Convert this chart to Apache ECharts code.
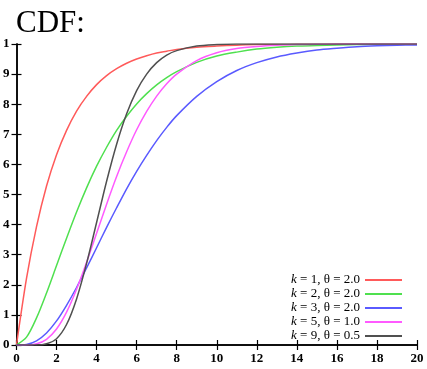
<!DOCTYPE html>
<html>
<head>
<meta charset="utf-8">
<script src="https://cdn.jsdelivr.net/npm/echarts@6/dist/echarts.min.js"></script>
<style>
  html, body { margin: 0; padding: 0; background: #fff; }
  #main { width: 427px; height: 369px; }
</style>
</head>
<body>
<div id="main"></div>
<script>
// x positions of the read points
const xs = [0, 0.5, 1, 1.5, 2, 2.5, 3, 3.5, 4, 4.5, 5, 5.5, 6, 6.5, 7, 7.5, 8,
  9, 10, 11, 12, 13, 14, 15, 16, 17, 18, 19, 20];

// CDF values, one per x above
const cdf_k1 = [0, 0.221, 0.393, 0.528, 0.632, 0.713, 0.777, 0.826, 0.865, 0.895, 0.918, 0.936, 0.950, 0.961, 0.970, 0.976, 0.982,
  0.989, 0.993, 0.996, 0.998, 0.998, 0.999, 0.999, 1, 1, 1, 1, 1];
const cdf_k2 = [0, 0.026, 0.090, 0.173, 0.264, 0.355, 0.442, 0.522, 0.594, 0.657, 0.713, 0.760, 0.801, 0.835, 0.864, 0.888, 0.908,
  0.939, 0.960, 0.973, 0.983, 0.989, 0.993, 0.995, 0.997, 0.998, 0.999, 0.999, 1];
const cdf_k3 = [0, 0.002, 0.014, 0.040, 0.080, 0.132, 0.191, 0.256, 0.323, 0.391, 0.456, 0.519, 0.577, 0.630, 0.679, 0.723, 0.762,
  0.826, 0.875, 0.912, 0.938, 0.957, 0.970, 0.980, 0.986, 0.991, 0.994, 0.996, 0.997];
const cdf_k5 = [0, 0.000, 0.004, 0.019, 0.053, 0.109, 0.185, 0.275, 0.371, 0.468, 0.560, 0.642, 0.715, 0.776, 0.827, 0.868, 0.900,
  0.945, 0.971, 0.985, 0.992, 0.996, 0.998, 0.999, 1, 1, 1, 1, 1];
const cdf_k9 = [0, 0, 0, 0.004, 0.021, 0.068, 0.153, 0.271, 0.407, 0.544, 0.667, 0.768, 0.845, 0.900, 0.938, 0.963, 0.978,
  0.993, 0.998, 1, 1, 1, 1, 1, 1, 1, 1, 1, 1];

const names = ['k1', 'k2', 'k3', 'k5', 'k9'];
const legendLabels = ['{i|k} = 1, θ = 2.0', '{i|k} = 2, θ = 2.0', '{i|k} = 3, θ = 2.0', '{i|k} = 5, θ = 1.0', '{i|k} = 9, θ = 0.5'];
const colors = ['#ff5a5a', '#4fe04f', '#5a5aff', '#ff5aff', '#505050'];
const seriesValues = [cdf_k1, cdf_k2, cdf_k3, cdf_k5, cdf_k9];

const xTickLabels = ['0', '2', '4', '6', '8', '10', '12', '14', '16', '18', '20'];
const yTickLabels = ['0', '1', '2', '3', '4', '5', '6', '7', '8', '9', '1'];

const chart = echarts.init(document.getElementById('main'), null, { renderer: 'canvas' });

const font = '"Liberation Serif", "DejaVu Serif", serif';
const axisBase = {
  type: 'value',
  axisLine: { show: true, lineStyle: { color: '#000', width: 1.5 } },
  axisTick: { show: true, inside: true, length: 5, lineStyle: { color: '#000', width: 1.2 } },
  splitLine: { show: false }
};

const option = {
  animation: false,
  title: {
    text: 'CDF:',
    left: 11, top: 3,
    textStyle: { fontFamily: font, fontSize: 31, fontWeight: 'normal', color: '#000' }
  },
  grid: { left: 15, right: 10, top: 44, bottom: 24 },
  legend: {
    data: names,
    orient: 'vertical',
    align: 'right',
    right: 25,
    top: 273,
    padding: 0,
    itemGap: 0,
    itemWidth: 37,
    itemHeight: 2,
    icon: 'rect',
    formatter: n => legendLabels[names.indexOf(n)],
    textStyle: {
      fontFamily: font, fontSize: 13, color: '#000', lineHeight: 14,
      rich: { i: { fontFamily: font, fontSize: 13, fontStyle: 'italic', color: '#000', lineHeight: 14 } }
    }
  },
  xAxis: [
    Object.assign({}, axisBase, {
      min: 0, max: 20, interval: 2, position: 'bottom',
      axisLabel: {
        margin: 7, fontFamily: font, fontSize: 13, fontWeight: 'bold', color: '#000',
        formatter: v => xTickLabels[Math.round(v / 2)]
      }
    }),
    Object.assign({}, axisBase, {
      min: 0, max: 20, interval: 2, position: 'top',
      axisLabel: { show: false }
    })
  ],
  yAxis: [
    Object.assign({}, axisBase, {
      min: 0, max: 1, interval: 0.1, position: 'left',
      axisLabel: {
        margin: 7, fontFamily: font, fontSize: 13, fontWeight: 'bold', color: '#000',
        formatter: v => yTickLabels[Math.round(v * 10)]
      }
    }),
    Object.assign({}, axisBase, {
      min: 0, max: 1, interval: 0.1, position: 'right',
      axisLabel: { show: false }
    })
  ],
  series: names.map((n, i) => ({
    name: n,
    type: 'line',
    data: xs.map((x, j) => [x, seriesValues[i][j]]),
    smooth: 0.3,
    showSymbol: false,
    itemStyle: { color: colors[i] },
    lineStyle: { color: colors[i], width: 1.5 }
  }))
};

chart.setOption(option);
</script>
</body>
</html>
